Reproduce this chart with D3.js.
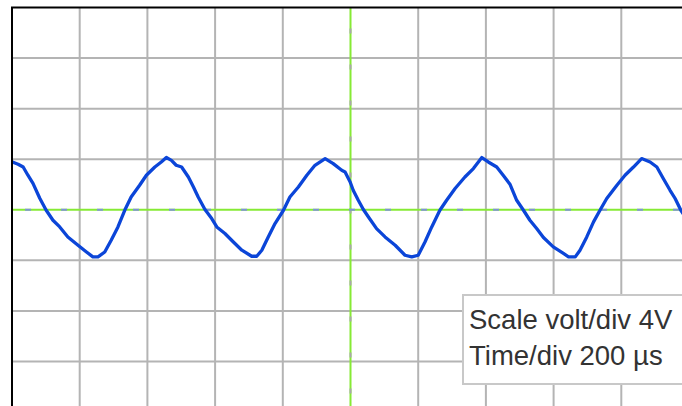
<!DOCTYPE html>
<html>
<head>
<meta charset="utf-8">
<script src="https://cdn.jsdelivr.net/npm/d3@7"></script>
<style>
  html, body { margin: 0; padding: 0; background: #fff; }
  svg { display: block; }
</style>
</head>
<body>
<div id="scope"></div>
<script>
// trace samples: time in µs, voltage in V
var timeUs = [0, 18, 33, 47, 62, 82, 101, 121, 141, 165, 195, 220, 239, 254, 274, 293, 313, 333,
  352, 377, 397, 422, 441, 456, 471, 485, 501, 521, 536, 550, 570, 590, 605, 629, 654, 679,
  708, 723, 738, 757, 777, 802, 821, 846, 871, 895, 925, 949, 974, 984, 999, 1008, 1023,
  1038, 1053, 1077, 1102, 1132, 1161, 1181, 1200, 1220, 1240, 1264, 1284, 1309, 1338,
  1363, 1388, 1407, 1432, 1451, 1471, 1491, 1511, 1530, 1550, 1570, 1599, 1629, 1644,
  1664, 1678, 1698, 1718, 1737, 1757, 1787, 1811, 1836, 1860, 1885, 1905, 1924, 1944,
  1959, 1976, 1991];
var volts = [3.78, 3.60, 3.38, 2.73, 2.09, 0.91, -0.04, -0.83, -1.36, -2.15, -2.81, -3.34, -3.73, -3.73, -3.34, -2.41, -1.36, -0.04,
  1.01, 1.94, 2.73, 3.38, 3.78, 4.13, 3.91, 3.52, 3.38, 2.59, 1.80, 1.01, 0.02, -0.70, -1.36, -1.88, -2.55, -3.20,
  -3.68, -3.68, -3.20, -2.15, -1.09, -0.04, 1.01, 1.80, 2.73, 3.52, 4.05, 3.65, 3.12, 2.99, 2.20, 1.54, 0.75,
  0.02, -0.57, -1.49, -2.15, -2.81, -3.60, -3.73, -3.60, -2.55, -1.36, -0.04, 0.75, 1.68, 2.59,
  3.26, 4.13, 3.78, 3.38, 2.73, 2.02, 0.75, -0.04, -0.83, -1.49, -2.20, -2.94, -3.46, -3.73,
  -3.73, -3.20, -2.15, -0.96, -0.04, 0.89, 1.94, 2.73, 3.38, 4.05, 3.78, 3.38, 2.47, 1.54,
  0.89, -0.04, -0.67];

// screen divisions: 200 µs per div, 4 V per div
var timeTicks = [200, 400, 600, 800, 1200, 1400, 1600, 1800];
var voltTicks = [-12, -8, -4, 4, 8, 12];
var infoLines = ["Scale volt/div 4V", "Time/div 200 µs"];

var W = 682, H = 406;
var svg = d3.select("#scope").append("svg").attr("width", W).attr("height", H);

var x = d3.scaleLinear().domain([0, 2000]).range([12, 689]);
var y = d3.scaleLinear().domain([-16, 16]).range([412, 7.5]);

// grey grid
svg.selectAll("line.vgrid").data(timeTicks).enter().append("line")
  .attr("x1", function (d) { return x(d); }).attr("x2", function (d) { return x(d); })
  .attr("y1", y(16)).attr("y2", y(-16))
  .style("stroke", "#b4b4b4").style("stroke-width", 2);
svg.selectAll("line.hgrid").data(voltTicks).enter().append("line")
  .attr("x1", x(0)).attr("x2", x(2000))
  .attr("y1", function (d) { return y(d); }).attr("y2", function (d) { return y(d); })
  .style("stroke", "#b4b4b4").style("stroke-width", 2);

// green centre axes
svg.append("line")
  .attr("x1", x(1000)).attr("x2", x(1000)).attr("y1", y(16)).attr("y2", y(-16))
  .style("stroke", "#86ea34").style("stroke-width", 2);
svg.append("line")
  .attr("x1", x(1000)).attr("x2", x(1000)).attr("y1", y(16)).attr("y2", y(-16))
  .style("stroke", "#a8a8a8").style("stroke-width", 2)
  .style("stroke-dasharray", "5,31").style("stroke-dashoffset", 15);
svg.append("line")
  .attr("x1", x(0)).attr("x2", x(2000)).attr("y1", y(0)).attr("y2", y(0))
  .style("stroke", "#86ea34").style("stroke-width", 2);
svg.append("line")
  .attr("x1", x(0)).attr("x2", x(2000)).attr("y1", y(0)).attr("y2", y(0))
  .style("stroke", "#7f93d6").style("stroke-width", 2)
  .style("stroke-dasharray", "6,30").style("stroke-dashoffset", 23);

// frame (left and top edges visible)
svg.append("line")
  .attr("x1", x(0)).attr("x2", x(0)).attr("y1", y(16)).attr("y2", H)
  .style("stroke", "#000").style("stroke-width", 2);
svg.append("line")
  .attr("x1", x(0) - 1).attr("x2", W).attr("y1", y(16)).attr("y2", y(16))
  .style("stroke", "#000").style("stroke-width", 2);

// trace
var pts = timeUs.map(function (t, i) { return [t, volts[i]]; });
var line = d3.line()
  .x(function (d) { return x(d[0]); })
  .y(function (d) { return y(d[1]); });
svg.append("defs").append("clipPath").attr("id", "plotclip")
  .append("rect").attr("x", x(0) + 1).attr("y", y(16)).attr("width", W).attr("height", H);
svg.append("path")
  .datum(pts)
  .attr("d", line)
  .attr("clip-path", "url(#plotclip)")
  .style("fill", "none")
  .style("stroke", "#0b45d8")
  .style("stroke-width", 3.3)
  .style("stroke-linejoin", "round");

// info box
var box = svg.append("g");
box.append("rect")
  .attr("x", 463).attr("y", 295).attr("width", 230).attr("height", 89)
  .style("fill", "#fff").style("stroke", "#c8c8c8").style("stroke-width", 2);
box.selectAll("text").data(infoLines).enter().append("text")
  .attr("x", 469)
  .attr("y", function (d, i) { return 329 + i * 36; })
  .style("font-family", "'Liberation Sans', Arial, sans-serif")
  .style("font-size", "27.5px")
  .style("fill", "#333")
  .text(function (d) { return d; });
</script>
</body>
</html>
